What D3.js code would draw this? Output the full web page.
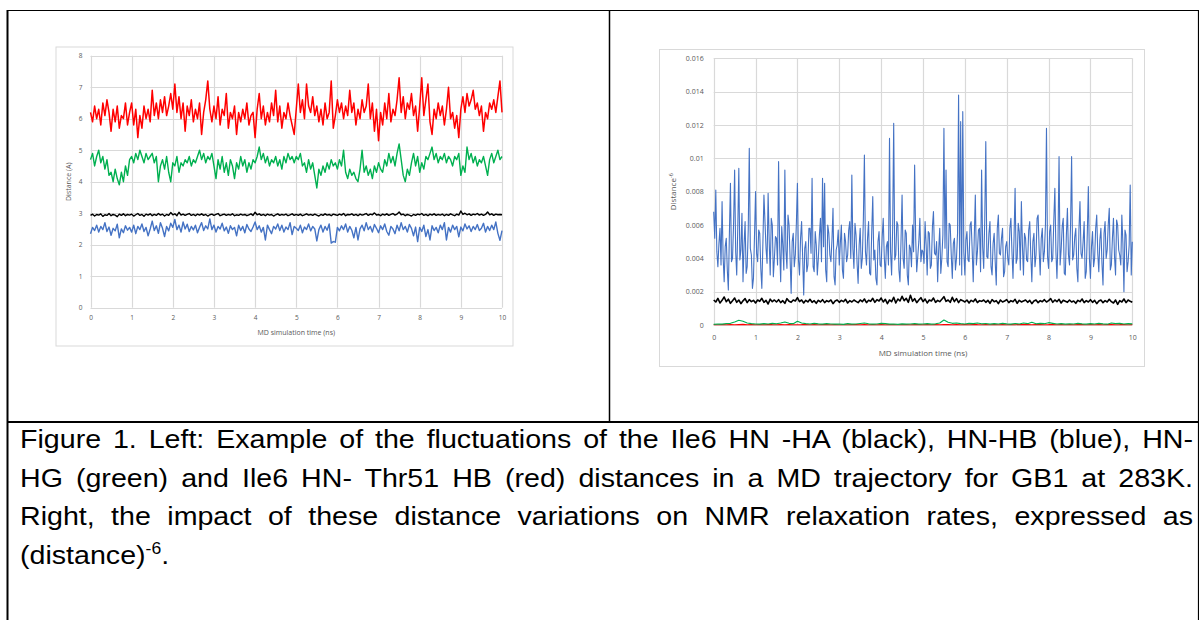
<!DOCTYPE html>
<html lang="en">
<head>
  <meta charset="UTF-8">
  <title>Figure 1 - Ile6 distance fluctuations</title>
  <script src="https://d3js.org/d3.v7.min.js"></script>
  <style>
    body { margin: 0; background: #fff; }
    svg { display: block; }
  </style>
</head>
<body>
  <svg width="1199" height="620"></svg>

  <script>
    // ---- left panel: distances (A), one value every 0.05 ns ----
    const distRed = [
      6.2,5.9,6.4,6.0,6.3,5.8,6.5,6.1,6.6,6.2, 5.6,6.3,5.9,6.4,5.7,6.1,6.0,6.5,5.8,6.2,
      6.5,5.8,6.3,5.4,6.1,5.7,6.4,6.0,6.3,5.9, 6.9,6.1,6.5,6.0,6.6,6.2,6.7,6.1,6.4,6.8,
      6.3,7.1,6.2,6.7,6.0,6.5,5.6,6.4,6.1,6.6, 5.9,6.3,6.0,6.5,5.5,6.2,6.6,7.2,6.3,5.9,
      6.4,6.0,6.7,5.8,6.3,6.1,6.8,5.7,6.2,6.0, 6.4,5.5,6.2,5.9,6.3,6.0,6.5,5.8,6.1,6.2,
      5.4,6.3,6.8,6.0,6.4,5.8,6.2,5.9,6.5,6.1, 6.9,5.9,6.4,5.7,6.2,6.0,6.5,6.1,5.8,5.5,
      6.3,7.1,6.2,6.6,6.0,7.1,6.4,6.2,6.7,6.1, 6.4,5.9,6.3,5.8,6.5,6.0,6.2,7.2,5.7,6.1,
      6.6,6.2,6.5,6.0,6.4,6.1,6.9,6.2,6.5,5.8, 6.3,6.0,6.6,6.2,6.4,7.1,6.0,6.5,5.6,6.3,
      5.3,6.2,5.8,6.5,6.0,6.8,5.9,6.3,6.1,6.6, 7.3,6.2,6.7,6.0,6.5,6.3,6.8,6.1,6.4,5.6,
      6.4,7.3,6.1,6.6,7.1,5.9,5.5,6.3,6.0,6.5, 6.1,6.4,5.8,6.3,7.0,6.0,6.2,5.7,6.1,5.4,
      6.3,6.7,6.2,6.8,6.4,6.6,6.9,6.3,6.5,6.1, 6.4,5.6,6.2,6.0,6.5,6.3,6.6,6.2,6.7,7.2,
      6.2
    ];
    const distGreen = [
      4.7,4.9,4.5,4.8,5.0,4.6,4.8,4.4,4.7,4.2, 4.3,4.0,4.4,4.1,3.9,4.3,4.0,4.5,4.2,4.7,
      4.8,4.6,4.9,4.7,5.0,4.8,4.6,4.9,4.7,4.8, 4.9,4.6,4.8,4.0,4.5,4.7,4.4,4.8,4.3,4.0,
      4.6,4.5,4.8,4.3,4.6,4.5,4.7,4.6,4.8,4.5, 4.7,4.6,4.8,5.0,4.7,4.9,4.6,4.8,4.7,4.9,
      4.5,4.1,4.7,4.4,4.8,4.3,4.6,4.2,4.7,4.5, 4.1,4.6,4.4,4.8,4.5,4.7,4.3,4.6,4.4,4.7,
      4.6,4.8,5.1,4.7,4.9,4.6,4.8,4.5,4.7,4.6, 4.8,4.5,4.7,4.4,4.8,4.6,4.9,4.7,4.8,4.6,
      4.8,4.7,4.9,4.5,4.6,4.3,4.7,4.4,4.6,4.2, 3.8,4.4,4.2,4.5,4.3,4.6,4.4,4.7,4.5,4.6,
      4.4,4.7,4.5,5.0,4.3,4.1,4.4,4.2,4.3,4.1, 4.0,4.4,5.0,4.3,4.5,4.2,4.4,4.1,4.5,4.3,
      4.6,4.4,4.3,4.7,4.5,4.9,4.6,4.8,4.5,4.9, 5.2,4.7,4.2,4.0,4.4,4.2,4.6,4.9,4.5,4.8,
      4.3,4.6,4.4,4.8,4.7,4.9,5.1,4.7,4.9,4.6, 4.8,4.7,4.9,4.6,4.8,4.7,4.5,4.8,4.7,4.9,
      4.2,4.5,4.3,5.1,4.7,4.9,4.6,4.8,4.5,4.7, 4.6,4.8,4.5,4.2,4.7,4.9,4.6,4.8,5.0,4.7,
      4.8
    ];
    const distBlack = [
      2.93,2.97,2.91,2.96,2.94,2.98,2.90,2.95,2.93,2.99, 2.92,2.96,2.94,2.89,2.97,2.93,2.98,2.92,2.96,2.94,
      2.97,2.91,2.95,2.99,2.93,2.96,2.90,2.97,2.94,2.98, 2.92,2.96,2.93,2.99,2.94,2.97,2.91,2.96,2.93,3.02,
      2.95,2.98,2.92,3.03,2.94,2.97,2.93,2.96,2.99,2.93, 2.96,2.92,2.97,2.94,2.98,2.93,2.96,2.91,2.95,2.97,
      2.93,2.96,2.99,2.92,2.95,2.97,2.93,2.96,2.94,2.98, 2.92,2.95,2.93,2.97,2.94,2.96,2.92,2.95,2.98,2.93,
      3.03,2.95,2.98,2.93,2.96,2.92,2.97,2.94,2.96,2.91, 2.95,2.98,2.93,2.96,2.94,2.97,2.92,2.95,2.98,2.93,
      2.96,2.93,2.97,2.92,2.95,2.98,2.94,2.96,2.93,2.97, 2.94,2.91,2.96,2.93,2.98,2.94,2.96,2.92,2.97,2.95,
      2.93,2.97,2.94,2.99,2.92,2.96,2.95,2.98,2.93,2.96, 2.92,2.97,2.94,2.96,2.99,2.93,2.97,2.95,3.01,2.94,
      2.96,2.92,2.97,2.94,2.98,2.93,2.96,2.99,2.94,2.97, 3.04,2.95,2.97,2.92,2.96,2.94,2.91,2.96,2.93,2.97,
      2.95,2.99,2.93,2.96,2.92,2.97,2.94,2.98,2.93,2.96, 2.94,2.97,2.92,2.96,2.93,2.98,2.95,2.92,2.97,2.94,
      3.07,2.96,3.00,2.95,2.98,2.93,2.97,2.95,2.99,2.94, 2.97,2.93,2.96,3.04,2.95,2.98,2.93,2.97,2.95,2.96,
      2.95
    ];
    const distBlue = [
      2.35,2.55,2.45,2.62,2.40,2.58,2.48,2.70,2.42,2.56, 2.30,2.52,2.44,2.65,2.22,2.50,2.38,2.60,2.46,2.55,
      2.40,2.62,2.35,2.58,2.48,2.66,2.42,2.55,2.28,2.50, 2.75,2.45,2.60,2.36,2.70,2.52,2.26,2.58,2.44,2.68,
      2.55,2.80,2.48,2.62,2.40,2.72,2.50,2.65,2.42,2.58, 2.47,2.62,2.38,2.55,2.70,2.45,2.60,2.50,2.82,2.48,
      2.62,2.40,2.58,2.50,2.68,2.44,2.56,2.36,2.60,2.48, 2.55,2.28,2.62,2.45,2.58,2.38,2.64,2.50,2.42,2.56,
      2.72,2.48,2.60,2.40,2.55,2.15,2.62,2.48,2.35,2.58, 2.50,2.66,2.45,2.62,2.40,2.56,2.48,2.70,2.32,2.58,
      2.52,2.45,2.62,2.38,2.56,2.48,2.66,2.44,2.58,2.50, 2.12,2.48,2.62,2.40,2.58,2.46,2.66,2.05,2.10,2.08,
      2.55,2.44,2.60,2.48,2.66,2.40,2.58,2.46,2.22,2.55, 2.15,2.50,2.62,2.44,2.70,2.48,2.58,2.40,2.64,2.52,
      2.38,2.60,2.48,2.66,2.42,2.30,2.58,2.50,2.35,2.62, 2.44,2.70,2.48,2.58,2.40,2.64,2.52,2.28,2.56,2.10,
      2.55,2.42,2.62,2.26,2.48,2.15,2.60,2.45,2.55,2.38, 2.62,2.48,2.70,2.15,2.55,2.40,2.62,2.48,2.58,2.25,
      2.56,2.44,2.66,2.50,2.60,2.42,2.58,2.48,2.64,2.45, 2.52,2.68,2.40,2.58,2.45,2.62,2.48,2.72,2.36,2.14,
      2.45
    ];

    // ---- right panel: distance^-6 ----
    // blue: one value every 0.025 ns
    const invBlue = [
      0.0068,0.0052,0.0081,0.0044,0.0035,0.0049,0.0058,0.0036,0.0074,0.0041,0.0026,0.0047,0.0052,0.0033,0.0021,0.0055,0.0085,0.0038,0.0040,0.0061,
      0.0093,0.0044,0.0030,0.0058,0.0094,0.0039,0.0045,0.0067,0.0026,0.0048,0.0062,0.0031,0.0035,0.0057,0.0106,0.0046,0.0042,0.0022,0.0028,0.0054,
      0.0080,0.0043,0.0038,0.0057,0.0055,0.0034,0.0022,0.0049,0.0078,0.0062,0.0046,0.0037,0.0079,0.0051,0.0030,0.0064,0.0060,0.0029,0.0040,0.0053,
      0.0052,0.0036,0.0098,0.0047,0.0026,0.0059,0.0048,0.0033,0.0093,0.0045,0.0034,0.0066,0.0060,0.0040,0.0019,0.0050,0.0055,0.0035,0.0042,0.0061,
      0.0085,0.0039,0.0030,0.0052,0.0062,0.0041,0.0018,0.0046,0.0050,0.0032,0.0036,0.0058,0.0058,0.0043,0.0088,0.0035,0.0032,0.0056,0.0048,0.0030,
      0.0040,0.0054,0.0064,0.0038,0.0088,0.0047,0.0085,0.0033,0.0026,0.0060,0.0055,0.0042,0.0038,0.0051,0.0070,0.0029,0.0024,0.0045,0.0048,0.0057,
      0.0036,0.0049,0.0060,0.0033,0.0028,0.0055,0.0050,0.0038,0.0042,0.0057,0.0062,0.0040,0.0090,0.0046,0.0034,0.0061,0.0054,0.0037,0.0025,0.0048,
      0.0058,0.0034,0.0040,0.0063,0.0102,0.0044,0.0036,0.0052,0.0062,0.0031,0.0030,0.0056,0.0077,0.0039,0.0045,0.0028,0.0024,0.0050,0.0056,0.0036,
      0.0035,0.0053,0.0064,0.0041,0.0028,0.0047,0.0050,0.0036,0.0112,0.0044,0.0030,0.0058,0.0121,0.0039,0.0042,0.0062,0.0060,0.0033,0.0026,0.0051,
      0.0078,0.0040,0.0034,0.0057,0.0055,0.0030,0.0024,0.0048,0.0046,0.0035,0.0060,0.0044,0.0096,0.0052,0.0032,0.0041,0.0050,0.0064,0.0038,0.0045,
      0.0044,0.0037,0.0062,0.0048,0.0030,0.0056,0.0055,0.0034,0.0036,0.0059,0.0068,0.0043,0.0042,0.0050,0.0026,0.0045,0.0058,0.0031,0.0040,0.0054,
      0.0118,0.0046,0.0093,0.0038,0.0035,0.0061,0.0060,0.0042,0.0028,0.0049,0.0052,0.0033,0.0040,0.0055,0.0138,0.0036,0.0122,0.0030,0.0128,0.0044,
      0.0030,0.0051,0.0056,0.0039,0.0038,0.0060,0.0062,0.0045,0.0026,0.0053,0.0078,0.0036,0.0044,0.0057,0.0058,0.0032,0.0093,0.0047,0.0034,0.0063,
      0.0110,0.0041,0.0040,0.0055,0.0062,0.0035,0.0030,0.0049,0.0055,0.0038,0.0024,0.0058,0.0066,0.0043,0.0042,0.0052,0.0058,0.0029,0.0032,0.0047,
      0.0050,0.0040,0.0036,0.0058,0.0064,0.0044,0.0028,0.0053,0.0082,0.0037,0.0040,0.0061,0.0056,0.0033,0.0074,0.0048,0.0030,0.0055,0.0052,0.0039,
      0.0038,0.0057,0.0062,0.0042,0.0026,0.0050,0.0055,0.0035,0.0042,0.0064,0.0066,0.0045,0.0030,0.0052,0.0058,0.0038,0.0044,0.0060,0.0118,0.0041,
      0.0034,0.0056,0.0060,0.0038,0.0040,0.0063,0.0082,0.0044,0.0028,0.0051,0.0101,0.0036,0.0045,0.0059,0.0064,0.0031,0.0030,0.0054,0.0070,0.0042,
      0.0036,0.0060,0.0101,0.0039,0.0042,0.0053,0.0058,0.0034,0.0026,0.0057,0.0074,0.0043,0.0040,0.0050,0.0062,0.0028,0.0032,0.0055,0.0083,0.0040,
      0.0028,0.0047,0.0056,0.0035,0.0040,0.0058,0.0066,0.0043,0.0032,0.0051,0.0058,0.0037,0.0024,0.0055,0.0062,0.0040,0.0045,0.0060,0.0070,0.0033,
      0.0036,0.0052,0.0064,0.0041,0.0030,0.0063,0.0060,0.0045,0.0042,0.0036,0.0066,0.0049,0.0020,0.0057,0.0054,0.0032,0.0038,0.0048,0.0084,0.0030,
      0.0050
    ];
    // black: one value every 0.05 ns
    const invBlack = [
      0.00150,0.00138,0.00160,0.00132,0.00148,0.00168,0.00140,0.00155,0.00130,0.00146, 0.00162,0.00136,0.00150,0.00128,0.00145,0.00158,0.00134,0.00152,0.00140,0.00148,
      0.00132,0.00150,0.00142,0.00160,0.00136,0.00148,0.00126,0.00155,0.00140,0.00150, 0.00138,0.00152,0.00134,0.00146,0.00130,0.00158,0.00142,0.00136,0.00150,0.00144,
      0.00164,0.00140,0.00150,0.00132,0.00148,0.00138,0.00154,0.00136,0.00146,0.00130, 0.00148,0.00138,0.00152,0.00134,0.00146,0.00140,0.00150,0.00128,0.00144,0.00150,
      0.00136,0.00148,0.00140,0.00154,0.00132,0.00146,0.00138,0.00150,0.00142,0.00134, 0.00150,0.00140,0.00156,0.00134,0.00148,0.00142,0.00160,0.00136,0.00152,0.00144,
      0.00162,0.00138,0.00154,0.00128,0.00150,0.00140,0.00166,0.00132,0.00156,0.00144, 0.00172,0.00146,0.00160,0.00136,0.00178,0.00142,0.00158,0.00134,0.00150,0.00164,
      0.00140,0.00156,0.00132,0.00150,0.00144,0.00162,0.00136,0.00148,0.00140,0.00154, 0.00170,0.00142,0.00150,0.00136,0.00166,0.00140,0.00158,0.00134,0.00152,0.00146,
      0.00138,0.00150,0.00132,0.00148,0.00140,0.00156,0.00134,0.00146,0.00142,0.00150, 0.00136,0.00148,0.00130,0.00152,0.00140,0.00146,0.00128,0.00150,0.00138,0.00144,
      0.00152,0.00134,0.00146,0.00140,0.00154,0.00130,0.00148,0.00138,0.00144,0.00150, 0.00136,0.00148,0.00128,0.00144,0.00150,0.00134,0.00146,0.00140,0.00152,0.00138,
      0.00146,0.00158,0.00136,0.00150,0.00140,0.00154,0.00132,0.00148,0.00142,0.00136, 0.00150,0.00138,0.00144,0.00130,0.00148,0.00140,0.00156,0.00134,0.00146,0.00138,
      0.00152,0.00136,0.00148,0.00128,0.00144,0.00150,0.00134,0.00146,0.00138,0.00154, 0.00140,0.00132,0.00150,0.00124,0.00146,0.00138,0.00156,0.00134,0.00150,0.00142,
      0.00136
    ];
    // green and red: one value every 0.1 ns
    const invGreen = [
      0.00004,0.00006,0.00005,0.00008,0.00010,0.00018,0.00028,0.00022,0.00012,0.00008,
      0.00006,0.00005,0.00008,0.00006,0.00010,0.00007,0.00012,0.00018,0.00010,0.00008,
      0.00022,0.00012,0.00008,0.00006,0.00010,0.00007,0.00005,0.00008,0.00006,0.00005,
      0.00006,0.00004,0.00008,0.00005,0.00006,0.00009,0.00012,0.00007,0.00005,0.00006,
      0.00010,0.00008,0.00005,0.00006,0.00004,0.00007,0.00005,0.00006,0.00008,0.00005,
      0.00006,0.00008,0.00005,0.00007,0.00012,0.00030,0.00016,0.00010,0.00012,0.00008,
      0.00006,0.00010,0.00008,0.00012,0.00007,0.00009,0.00005,0.00008,0.00006,0.00010,
      0.00007,0.00005,0.00009,0.00006,0.00012,0.00008,0.00016,0.00007,0.00010,0.00008,
      0.00014,0.00010,0.00006,0.00008,0.00005,0.00007,0.00006,0.00010,0.00007,0.00005,
      0.00008,0.00006,0.00010,0.00007,0.00005,0.00012,0.00008,0.00010,0.00006,0.00008,
      0.00007
    ];
    const invRed = [
      0.000020,0.000015,0.000030,0.000018,0.000025,0.000012,0.000022,0.000035,0.000016,0.000020,
      0.000014,0.000026,0.000018,0.000032,0.000020,0.000015,0.000024,0.000012,0.000028,0.000018,
      0.000016,0.000022,0.000034,0.000018,0.000026,0.000014,0.000020,0.000030,0.000016,0.000022,
      0.000018,0.000024,0.000014,0.000020,0.000028,0.000016,0.000032,0.000018,0.000024,0.000015,
      0.000026,0.000018,0.000030,0.000020,0.000014,0.000022,0.000028,0.000016,0.000020,0.000025,
      0.000015,0.000028,0.000018,0.000022,0.000016,0.000030,0.000020,0.000014,0.000026,0.000018,
      0.000024,0.000016,0.000034,0.000020,0.000014,0.000026,0.000018,0.000030,0.000016,0.000022,
      0.000015,0.000024,0.000018,0.000030,0.000020,0.000026,0.000014,0.000022,0.000032,0.000018,
      0.000020,0.000028,0.000016,0.000024,0.000014,0.000030,0.000018,0.000022,0.000026,0.000016,
      0.000024,0.000018,0.000030,0.000015,0.000022,0.000028,0.000016,0.000020,0.000034,0.000018,
      0.000020
    ];

    const xTickValues = [0,1,2,3,4,5,6,7,8,9,10];
    const leftYTicks = [0,1,2,3,4,5,6,7,8];
    const rightYTicks = [0,0.002,0.004,0.006,0.008,0.01,0.012,0.014,0.016];
    const rightYTickLabels = ["0","0.002","0.004","0.006","0.008","0.01","0.012","0.014","0.016"];

    const captionLines = [
      "Figure 1. Left: Example of the fluctuations of the Ile6 HN -HA (black), HN-HB (blue), HN-",
      "HG (green) and Ile6 HN- Thr51 HB (red) distances in a MD trajectory for GB1 at 283K.",
      "Right, the impact of these distance variations on NMR relaxation rates, expressed as"
    ];

    const svg = d3.select("svg");
    svg.append("rect").attr("width", 1199).attr("height", 620).attr("fill", "#fff");

    const gridColor = "#d9d9d9";
    const labelColor = "#595959";
    const tickFont = "'Open Sans', 'Liberation Sans', sans-serif";

    function drawChart(c) {
      // chart area frame
      svg.append("rect")
        .attr("x", c.box[0]).attr("y", c.box[1])
        .attr("width", c.box[2]).attr("height", c.box[3])
        .attr("fill", "#fff").attr("stroke", gridColor).attr("stroke-width", 1);

      const x = d3.scaleLinear().domain([0, 10]).range([c.x0, c.x1]);
      const y = d3.scaleLinear().domain(c.yDomain).range([c.y0, c.y1]);
      const g = svg.append("g");

      // gridlines
      g.selectAll(".hgrid").data(c.yTicks).enter().append("line")
        .attr("x1", c.x0).attr("x2", c.x1)
        .attr("y1", d => Math.round(y(d)) + 0.5).attr("y2", d => Math.round(y(d)) + 0.5)
        .attr("stroke", gridColor).attr("stroke-width", 1.2);
      g.selectAll(".vgrid").data(xTickValues).enter().append("line")
        .attr("y1", c.y0).attr("y2", c.y1)
        .attr("x1", d => Math.round(x(d)) + 0.5).attr("x2", d => Math.round(x(d)) + 0.5)
        .attr("stroke", gridColor).attr("stroke-width", 1.2);

      // axes (labels only, Excel style)
      const yAxis = d3.axisLeft(y).tickValues(c.yTicks).tickSize(0).tickPadding(c.yPad)
        .tickFormat((d, i) => c.yLabels ? c.yLabels[i] : d);
      const ya = svg.append("g").attr("transform", `translate(${c.x0},0)`).call(yAxis);
      const xAxis = d3.axisBottom(x).tickValues(xTickValues).tickSize(0).tickPadding(c.xPad);
      const xa = svg.append("g").attr("transform", `translate(0,${c.y0})`).call(xAxis);
      [ya, xa].forEach(a => {
        a.select(".domain").remove();
        a.selectAll("text").attr("fill", labelColor)
          .style("font-family", tickFont).style("font-size", c.tickSize + "px");
      });

      // series
      const line = d3.line().x(d => x(d[0])).y(d => y(d[1]));
      c.series.forEach(s => {
        const n = s.values.length;
        const pts = s.values.map((v, i) => [i * 10 / (n - 1), v]);
        svg.append("path").datum(pts)
          .attr("d", line)
          .attr("fill", "none")
          .attr("stroke", s.color)
          .attr("stroke-width", s.width || 1.1)
          .attr("stroke-linejoin", "round");
      });

      // axis titles
      svg.append("text")
        .attr("x", (c.x0 + c.x1) / 2).attr("y", c.xTitleY)
        .attr("text-anchor", "middle").attr("fill", labelColor)
        .style("font-family", tickFont).style("font-size", c.titleSize + "px")
        .text("MD simulation time (ns)");
      const yt = svg.append("text")
        .attr("transform", `translate(${c.yTitleX},${(c.y0 + c.y1) / 2}) rotate(-90)`)
        .attr("text-anchor", "middle").attr("fill", labelColor)
        .style("font-family", tickFont).style("font-size", c.titleSize + "px");
      yt.append("tspan").text(c.yTitle);
      if (c.yTitleSup) {
        yt.append("tspan").attr("dy", -3)
          .style("font-size", (c.titleSize * 0.7) + "px").text(c.yTitleSup);
      }
    }

    // left panel
    drawChart({
      box: [56, 47, 457, 299],
      x0: 90.5, x1: 502, y0: 307.7, y1: 55.7,
      yDomain: [0, 8], yTicks: leftYTicks, yLabels: null,
      yPad: 8, xPad: 8, tickSize: 6.5, titleSize: 7,
      xTitleY: 335, yTitleX: 71, yTitle: "Distance (A)",
      series: [
        { values: distBlue, color: "#4472c4", width: 1.4 },
        { values: distBlack, color: "#000", width: 1.4 },
        { values: distGreen, color: "#00b050", width: 1.4 },
        { values: distRed, color: "#ff0000", width: 1.5 }
      ]
    });

    // right panel
    drawChart({
      box: [659.5, 49.5, 485, 317],
      x0: 713.7, x1: 1132.3, y0: 325, y1: 58.3,
      yDomain: [0, 0.016], yTicks: rightYTicks, yLabels: rightYTickLabels,
      yPad: 10, xPad: 10, tickSize: 7, titleSize: 8,
      xTitleY: 355.5, yTitleX: 675.5, yTitle: "Distance", yTitleSup: "-6",
      series: [
        { values: invBlue, color: "#4472c4", width: 1.1 },
        { values: invBlack, color: "#000", width: 1.6 },
        { values: invRed, color: "#ff0000", width: 1.1 },
        { values: invGreen, color: "#00b050", width: 1.1 }
      ]
    });

    // ---- table frame ----
    const frame = svg.append("g").attr("stroke", "#000");
    frame.append("line").attr("x1", 7).attr("x2", 1199).attr("y1", 10.5).attr("y2", 10.5).attr("stroke-width", 1.2);
    frame.append("line").attr("x1", 7.5).attr("x2", 7.5).attr("y1", 10).attr("y2", 620).attr("stroke-width", 2);
    frame.append("line").attr("x1", 609.5).attr("x2", 609.5).attr("y1", 10).attr("y2", 422).attr("stroke-width", 1.5);
    frame.append("line").attr("x1", 1198.5).attr("x2", 1198.5).attr("y1", 10).attr("y2", 620).attr("stroke-width", 1.2);
    frame.append("line").attr("x1", 7).attr("x2", 1199).attr("y1", 422).attr("y2", 422).attr("stroke-width", 2);

    // ---- caption: wide Arial-like text, lines 1-3 justified ----
    const capX = 20, capRight = 1193, capScale = 1.1;
    const capFont = "'Liberation Sans', Arial, sans-serif";
    const capBase = [448, 486.5, 525, 563.5];
    captionLines.forEach((txt, i) => {
      const t = svg.append("text")
        .attr("transform", `translate(${capX},${capBase[i]}) scale(${capScale},1)`)
        .style("font-family", capFont).style("font-size", "26px").attr("fill", "#000")
        .text(txt);
      const w = t.node().getComputedTextLength();
      const gaps = txt.split(" ").length - 1;
      const ws = Math.max(-3, ((capRight - capX) / capScale - w) / gaps);
      t.attr("word-spacing", ws + "px");
    });
    const last = svg.append("text")
      .attr("transform", `translate(${capX},${capBase[3]}) scale(${capScale},1)`)
      .style("font-family", capFont).style("font-size", "26px").attr("fill", "#000");
    last.append("tspan").text("(distance)");
    last.append("tspan").attr("dy", -10).style("font-size", "16px").text("-6");
    last.append("tspan").attr("dy", 10).text(".");
  </script>
</body>
</html>
